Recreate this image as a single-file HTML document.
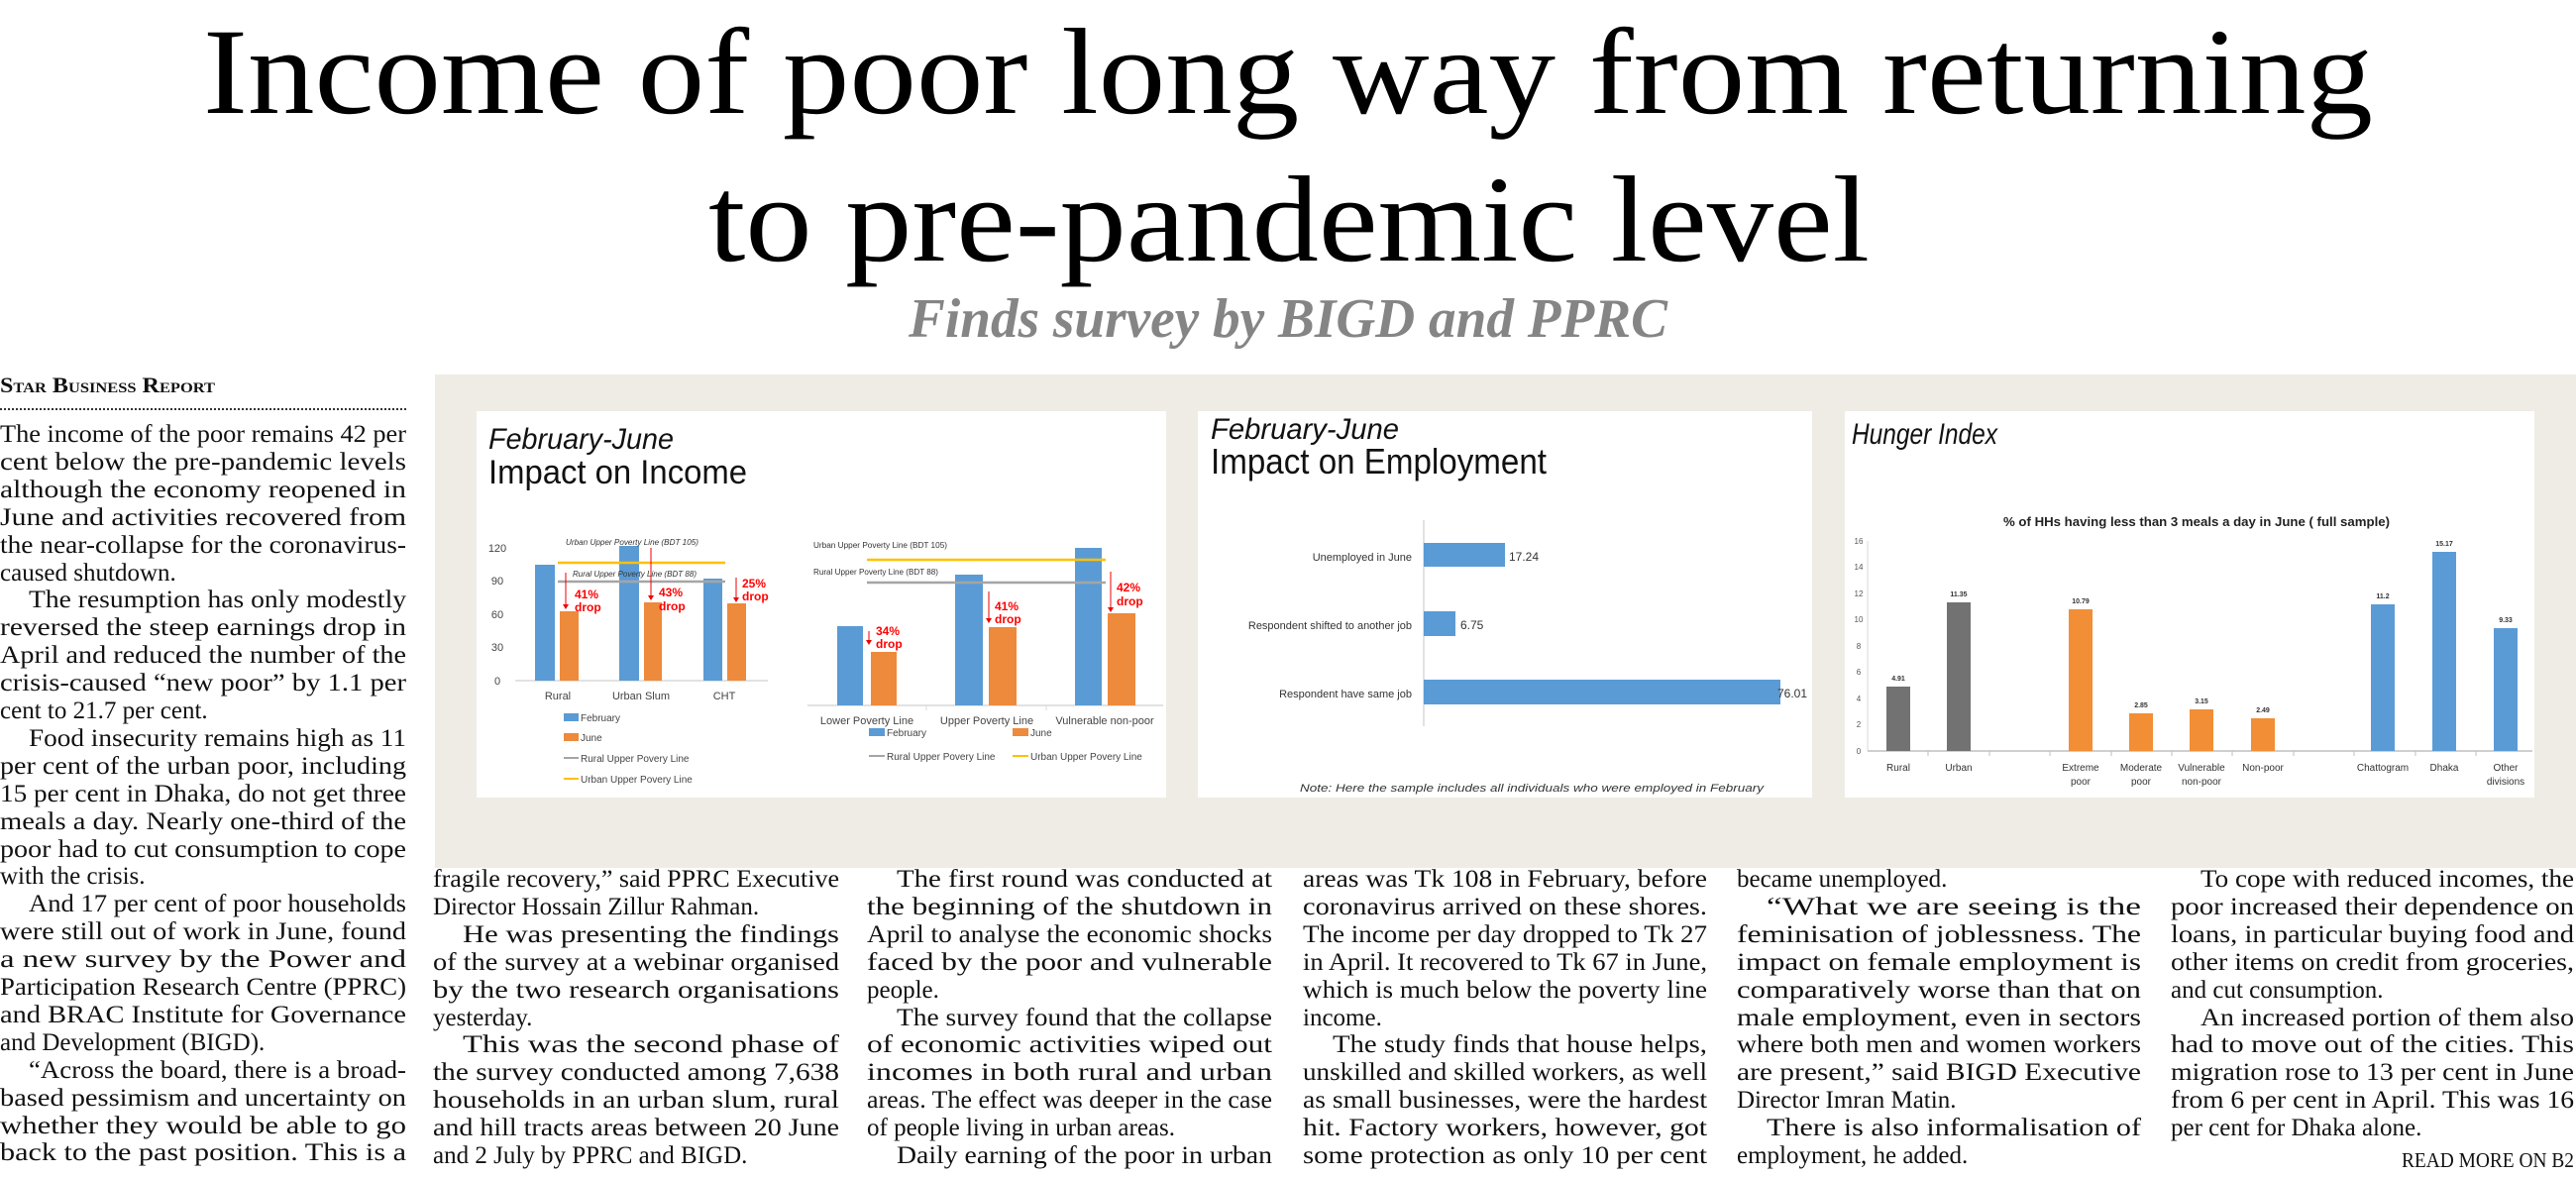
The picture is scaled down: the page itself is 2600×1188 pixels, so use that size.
<!DOCTYPE html>
<html><head><meta charset="utf-8">
<style>
html,body{margin:0;padding:0;background:#fff;}
svg{display:block;}
.b{font-family:"Liberation Serif",serif;font-size:25px;fill:#111;}
.s{font-family:"Liberation Sans",sans-serif;}
</style></head><body>
<svg width="2600" height="1188" viewBox="0 0 2600 1188" xmlns="http://www.w3.org/2000/svg">
<rect width="2600" height="1188" fill="#fff"/>
<!-- Headline -->
<text x="1300" y="114" text-anchor="middle" font-family="Liberation Serif,serif" font-size="124" fill="#000" textLength="2190" lengthAdjust="spacingAndGlyphs">Income of poor long way from returning</text>
<text x="1301" y="263" text-anchor="middle" font-family="Liberation Serif,serif" font-size="124" fill="#000" textLength="1172" lengthAdjust="spacingAndGlyphs">to pre-pandemic level</text>
<text x="1300" y="340" text-anchor="middle" font-family="Liberation Serif,serif" font-size="56" font-weight="bold" font-style="italic" fill="#858585" textLength="766" lengthAdjust="spacingAndGlyphs">Finds survey by BIGD and PPRC</text>

<!-- byline -->
<text x="0" y="396" font-family="Liberation Serif,serif" font-size="22" font-weight="bold" style="font-variant:small-caps" fill="#111" textLength="217" lengthAdjust="spacingAndGlyphs">Star Business Report</text>
<line x1="0" y1="413" x2="410" y2="413" stroke="#333" stroke-width="2" stroke-dasharray="2,2"/>

<!-- Left column -->
<g class="b">
<text x="0" y="446" textLength="410" lengthAdjust="spacingAndGlyphs">The income of the poor remains 42 per</text>
<text x="0" y="474" textLength="410" lengthAdjust="spacingAndGlyphs">cent below the pre-pandemic levels</text>
<text x="0" y="502" textLength="410" lengthAdjust="spacingAndGlyphs">although the economy reopened in</text>
<text x="0" y="530" textLength="410" lengthAdjust="spacingAndGlyphs">June and activities recovered from</text>
<text x="0" y="558" textLength="410" lengthAdjust="spacingAndGlyphs">the near-collapse for the coronavirus-</text>
<text x="0" y="586">caused shutdown.</text>
<text x="29" y="613" textLength="381" lengthAdjust="spacingAndGlyphs">The resumption has only modestly</text>
<text x="0" y="641" textLength="410" lengthAdjust="spacingAndGlyphs">reversed the steep earnings drop in</text>
<text x="0" y="669" textLength="410" lengthAdjust="spacingAndGlyphs">April and reduced the number of the</text>
<text x="0" y="697" textLength="410" lengthAdjust="spacingAndGlyphs">crisis-caused “new poor” by 1.1 per</text>
<text x="0" y="725">cent to 21.7 per cent.</text>
<text x="29" y="753" textLength="381" lengthAdjust="spacingAndGlyphs">Food insecurity remains high as 11</text>
<text x="0" y="781" textLength="410" lengthAdjust="spacingAndGlyphs">per cent of the urban poor, including</text>
<text x="0" y="809" textLength="410" lengthAdjust="spacingAndGlyphs">15 per cent in Dhaka, do not get three</text>
<text x="0" y="837" textLength="410" lengthAdjust="spacingAndGlyphs">meals a day. Nearly one-third of the</text>
<text x="0" y="865" textLength="410" lengthAdjust="spacingAndGlyphs">poor had to cut consumption to cope</text>
<text x="0" y="892">with the crisis.</text>
<text x="29" y="920" textLength="381" lengthAdjust="spacingAndGlyphs">And 17 per cent of poor households</text>
<text x="0" y="948" textLength="410" lengthAdjust="spacingAndGlyphs">were still out of work in June, found</text>
<text x="0" y="976" textLength="410" lengthAdjust="spacingAndGlyphs">a new survey by the Power and</text>
<text x="0" y="1004" textLength="410" lengthAdjust="spacingAndGlyphs">Participation Research Centre (PPRC)</text>
<text x="0" y="1032" textLength="410" lengthAdjust="spacingAndGlyphs">and BRAC Institute for Governance</text>
<text x="0" y="1060">and Development (BIGD).</text>
<text x="29" y="1088" textLength="381" lengthAdjust="spacingAndGlyphs">“Across the board, there is a broad-</text>
<text x="0" y="1116" textLength="410" lengthAdjust="spacingAndGlyphs">based pessimism and uncertainty on</text>
<text x="0" y="1144" textLength="410" lengthAdjust="spacingAndGlyphs">whether they would be able to go</text>
<text x="0" y="1171" textLength="410" lengthAdjust="spacingAndGlyphs">back to the past position. This is a</text>
</g>

<!-- Chart area -->
<rect x="439" y="378" width="2161" height="498" fill="#efece5"/>
<rect x="481" y="415" width="696" height="390" fill="#fff"/>
<rect x="1209" y="415" width="620" height="390" fill="#fff"/>
<rect x="1862" y="415" width="696" height="390" fill="#fff"/>

<!-- Panel 1 -->
<g class="s">
<text x="493" y="453" font-size="30" font-style="italic" fill="#111" textLength="187" lengthAdjust="spacingAndGlyphs">February-June</text>
<text x="493" y="488" font-size="34" fill="#111" textLength="261" lengthAdjust="spacingAndGlyphs">Impact on Income</text>
<g font-size="11" fill="#444" text-anchor="middle">
<text x="502" y="557">120</text><text x="502" y="590">90</text><text x="502" y="624">60</text><text x="502" y="657">30</text><text x="502" y="691">0</text>
</g>
<line x1="520" y1="687" x2="775" y2="687" stroke="#d9d9d9" stroke-width="1.5"/>
<g fill="#5b9bd5">
<rect x="540" y="570" width="20" height="117"/><rect x="625" y="551" width="20" height="136"/><rect x="710" y="584" width="19" height="103"/>
</g>
<g fill="#ed8a3c">
<rect x="565" y="617" width="19" height="70"/><rect x="650" y="608" width="18" height="79"/><rect x="734" y="609" width="19" height="78"/>
</g>
<line x1="563" y1="568" x2="732" y2="568" stroke="#ffc000" stroke-width="2.5"/>
<line x1="563" y1="587" x2="732" y2="587" stroke="#a5a5a5" stroke-width="2.5"/>
<text x="571" y="550" font-size="8" font-style="italic" fill="#333" textLength="134" lengthAdjust="spacingAndGlyphs">Urban Upper Poverty Line (BDT 105)</text>
<text x="578" y="582" font-size="8" font-style="italic" fill="#333" textLength="125" lengthAdjust="spacingAndGlyphs">Rural Upper Poverty Line (BDT 88)</text>
<g stroke="#e00" stroke-width="1"><line x1="571" y1="578" x2="571" y2="612"/><line x1="657" y1="553" x2="657" y2="603"/><line x1="743" y1="583" x2="743" y2="605"/></g>
<g fill="#e00"><path d="M568,610 L574,610 L571,615Z"/><path d="M654,601 L660,601 L657,606Z"/><path d="M740,603 L746,603 L743,608Z"/></g>
<g font-size="12" font-weight="bold" fill="#f00">
<text x="580" y="604">41%</text><text x="580" y="617">drop</text>
<text x="665" y="602">43%</text><text x="665" y="616">drop</text>
<text x="749" y="593">25%</text><text x="749" y="606">drop</text>
</g>
<g font-size="11" fill="#444" text-anchor="middle">
<text x="563" y="706">Rural</text><text x="647" y="706">Urban Slum</text><text x="731" y="706">CHT</text>
</g>
<rect x="569" y="720" width="15" height="8" fill="#5b9bd5"/>
<rect x="569" y="740" width="15" height="8" fill="#ed8a3c"/>
<line x1="569" y1="765" x2="584" y2="765" stroke="#a5a5a5" stroke-width="2"/>
<line x1="569" y1="786" x2="584" y2="786" stroke="#ffc000" stroke-width="2"/>
<g font-size="10" fill="#444">
<text x="586" y="728">February</text><text x="586" y="748">June</text>
<text x="586" y="769">Rural Upper Povery Line</text><text x="586" y="790">Urban Upper Povery Line</text>
</g>
<!-- right sub chart -->
<line x1="815" y1="712" x2="1174" y2="712" stroke="#d9d9d9" stroke-width="1.5"/>
<line x1="935" y1="712" x2="935" y2="717" stroke="#d9d9d9"/><line x1="1056" y1="712" x2="1056" y2="717" stroke="#d9d9d9"/>
<g fill="#5b9bd5"><rect x="845" y="632" width="26" height="80"/><rect x="964" y="580" width="28" height="132"/><rect x="1085" y="553" width="27" height="159"/></g>
<g fill="#ed8a3c"><rect x="879" y="658" width="26" height="54"/><rect x="998" y="633" width="28" height="79"/><rect x="1118" y="619" width="28" height="93"/></g>
<line x1="875" y1="565" x2="1116" y2="565" stroke="#ffc000" stroke-width="2.5"/>
<line x1="875" y1="588" x2="1116" y2="588" stroke="#a5a5a5" stroke-width="2.5"/>
<text x="821" y="553" font-size="8" fill="#333" textLength="135" lengthAdjust="spacingAndGlyphs">Urban Upper Poverty Line (BDT 105)</text>
<text x="821" y="580" font-size="8" fill="#333" textLength="126" lengthAdjust="spacingAndGlyphs">Rural Upper Poverty Line (BDT 88)</text>
<g stroke="#e00" stroke-width="1"><line x1="877" y1="637" x2="877" y2="648"/><line x1="998" y1="597" x2="998" y2="626"/><line x1="1121" y1="577" x2="1121" y2="615"/></g>
<g fill="#e00"><path d="M874,646 L880,646 L877,651Z"/><path d="M995,624 L1001,624 L998,629Z"/><path d="M1118,613 L1124,613 L1121,618Z"/></g>
<g font-size="12" font-weight="bold" fill="#f00">
<text x="884" y="641">34%</text><text x="884" y="654">drop</text>
<text x="1004" y="616">41%</text><text x="1004" y="629">drop</text>
<text x="1127" y="597">42%</text><text x="1127" y="611">drop</text>
</g>
<g font-size="11" fill="#444" text-anchor="middle">
<text x="875" y="731">Lower Poverty Line</text><text x="996" y="731">Upper Poverty Line</text><text x="1115" y="731">Vulnerable non-poor</text>
</g>
<rect x="877" y="735" width="16" height="8" fill="#5b9bd5"/><text x="895" y="743" font-size="10" fill="#444">February</text>
<rect x="1022" y="735" width="16" height="8" fill="#ed8a3c"/><text x="1040" y="743" font-size="10" fill="#444">June</text>
<line x1="877" y1="763" x2="893" y2="763" stroke="#a5a5a5" stroke-width="2"/><text x="895" y="767" font-size="10" fill="#444">Rural Upper Povery Line</text>
<line x1="1022" y1="763" x2="1038" y2="763" stroke="#ffc000" stroke-width="2"/><text x="1040" y="767" font-size="10" fill="#444">Urban Upper Povery Line</text>
</g>

<!-- Panel 2 -->
<g class="s">
<text x="1222" y="443" font-size="30" font-style="italic" fill="#111" textLength="190" lengthAdjust="spacingAndGlyphs">February-June</text>
<text x="1222" y="478" font-size="36" fill="#111" textLength="339" lengthAdjust="spacingAndGlyphs">Impact on Employment</text>
<line x1="1437" y1="525" x2="1437" y2="733" stroke="#d9d9d9" stroke-width="1.5"/>
<rect x="1437" y="548" width="82" height="24" fill="#5b9bd5"/>
<rect x="1437" y="617" width="32" height="25" fill="#5b9bd5"/>
<rect x="1437" y="686" width="360" height="25" fill="#5b9bd5"/>
<g font-size="12" fill="#333">
<text x="1523" y="566">17.24</text><text x="1474" y="635">6.75</text><text x="1794" y="704">76.01</text>
</g>
<g font-size="11" fill="#333" text-anchor="end">
<text x="1425" y="566">Unemployed in June</text>
<text x="1425" y="635">Respondent shifted to another job</text>
<text x="1425" y="704">Respondent have same job</text>
</g>
<text x="1312" y="799" font-size="11" font-style="italic" fill="#333" textLength="468" lengthAdjust="spacingAndGlyphs">Note: Here the sample includes all individuals who were employed in February</text>
</g>

<!-- Panel 3 -->
<g class="s">
<text x="1869" y="448" font-size="30" font-style="italic" fill="#111" textLength="147" lengthAdjust="spacingAndGlyphs">Hunger Index</text>
<text x="2217" y="531" font-size="13" font-weight="bold" fill="#222" text-anchor="middle" textLength="390" lengthAdjust="spacingAndGlyphs">% of HHs having less than 3 meals a day in June ( full sample)</text>
<g font-size="8" fill="#555" text-anchor="middle">
<text x="1876" y="761">0</text><text x="1876" y="734">2</text><text x="1876" y="708">4</text><text x="1876" y="681">6</text><text x="1876" y="655">8</text><text x="1876" y="628">10</text><text x="1876" y="602">12</text><text x="1876" y="575">14</text><text x="1876" y="549">16</text>
</g>
<line x1="1885" y1="546" x2="1885" y2="758" stroke="#d9d9d9"/>
<line x1="1885" y1="758" x2="2556" y2="758" stroke="#bfbfbf" stroke-width="1.5"/>
<g stroke="#bfbfbf"><line x1="1946" y1="758" x2="1946" y2="763"/><line x1="2008" y1="758" x2="2008" y2="763"/><line x1="2069" y1="758" x2="2069" y2="763"/><line x1="2131" y1="758" x2="2131" y2="763"/><line x1="2192" y1="758" x2="2192" y2="763"/><line x1="2253" y1="758" x2="2253" y2="763"/><line x1="2315" y1="758" x2="2315" y2="763"/><line x1="2376" y1="758" x2="2376" y2="763"/><line x1="2438" y1="758" x2="2438" y2="763"/><line x1="2499" y1="758" x2="2499" y2="763"/></g>
<g fill="#727272"><rect x="1904" y="693" width="24" height="65"/><rect x="1965" y="608" width="24" height="150"/></g>
<g fill="#f28e35"><rect x="2088" y="615" width="24" height="143"/><rect x="2149" y="720" width="24" height="38"/><rect x="2210" y="716" width="24" height="42"/><rect x="2272" y="725" width="24" height="33"/></g>
<g fill="#5b9bd5"><rect x="2393" y="610" width="24" height="148"/><rect x="2455" y="557" width="24" height="201"/><rect x="2517" y="634" width="24" height="124"/></g>
<g font-size="7" font-weight="bold" fill="#333" text-anchor="middle">
<text x="1916" y="687">4.91</text><text x="1977" y="602">11.35</text><text x="2100" y="609">10.79</text><text x="2161" y="714">2.85</text><text x="2222" y="710">3.15</text><text x="2284" y="719">2.49</text><text x="2405" y="604">11.2</text><text x="2467" y="551">15.17</text><text x="2529" y="628">9.33</text>
</g>
<g font-size="10" fill="#333" text-anchor="middle">
<text x="1916" y="778">Rural</text><text x="1977" y="778">Urban</text>
<text x="2100" y="778">Extreme</text><text x="2100" y="792">poor</text>
<text x="2161" y="778">Moderate</text><text x="2161" y="792">poor</text>
<text x="2222" y="778">Vulnerable</text><text x="2222" y="792">non-poor</text>
<text x="2284" y="778">Non-poor</text>
<text x="2405" y="778">Chattogram</text><text x="2467" y="778">Dhaka</text>
<text x="2529" y="778">Other</text><text x="2529" y="792">divisions</text>
</g>
</g>

<!-- Bottom columns -->
<g class="b">
<!-- col1 -->
<text x="437" y="895" textLength="410" lengthAdjust="spacingAndGlyphs">fragile recovery,” said PPRC Executive</text>
<text x="437" y="923">Director Hossain Zillur Rahman.</text>
<text x="467" y="951" textLength="380" lengthAdjust="spacingAndGlyphs">He was presenting the findings</text>
<text x="437" y="979" textLength="410" lengthAdjust="spacingAndGlyphs">of the survey at a webinar organised</text>
<text x="437" y="1007" textLength="410" lengthAdjust="spacingAndGlyphs">by the two research organisations</text>
<text x="437" y="1035">yesterday.</text>
<text x="467" y="1062" textLength="380" lengthAdjust="spacingAndGlyphs">This was the second phase of</text>
<text x="437" y="1090" textLength="410" lengthAdjust="spacingAndGlyphs">the survey conducted among 7,638</text>
<text x="437" y="1118" textLength="410" lengthAdjust="spacingAndGlyphs">households in an urban slum, rural</text>
<text x="437" y="1146" textLength="410" lengthAdjust="spacingAndGlyphs">and hill tracts areas between 20 June</text>
<text x="437" y="1174">and 2 July by PPRC and BIGD.</text>
<!-- col2 -->
<text x="905" y="895" textLength="379" lengthAdjust="spacingAndGlyphs">The first round was conducted at</text>
<text x="875" y="923" textLength="409" lengthAdjust="spacingAndGlyphs">the beginning of the shutdown in</text>
<text x="875" y="951" textLength="409" lengthAdjust="spacingAndGlyphs">April to analyse the economic shocks</text>
<text x="875" y="979" textLength="409" lengthAdjust="spacingAndGlyphs">faced by the poor and vulnerable</text>
<text x="875" y="1007">people.</text>
<text x="905" y="1035" textLength="379" lengthAdjust="spacingAndGlyphs">The survey found that the collapse</text>
<text x="875" y="1062" textLength="409" lengthAdjust="spacingAndGlyphs">of economic activities wiped out</text>
<text x="875" y="1090" textLength="409" lengthAdjust="spacingAndGlyphs">incomes in both rural and urban</text>
<text x="875" y="1118" textLength="409" lengthAdjust="spacingAndGlyphs">areas. The effect was deeper in the case</text>
<text x="875" y="1146">of people living in urban areas.</text>
<text x="905" y="1174" textLength="379" lengthAdjust="spacingAndGlyphs">Daily earning of the poor in urban</text>
<!-- col3 -->
<text x="1315" y="895" textLength="408" lengthAdjust="spacingAndGlyphs">areas was Tk 108 in February, before</text>
<text x="1315" y="923" textLength="408" lengthAdjust="spacingAndGlyphs">coronavirus arrived on these shores.</text>
<text x="1315" y="951" textLength="408" lengthAdjust="spacingAndGlyphs">The income per day dropped to Tk 27</text>
<text x="1315" y="979" textLength="408" lengthAdjust="spacingAndGlyphs">in April. It recovered to Tk 67 in June,</text>
<text x="1315" y="1007" textLength="408" lengthAdjust="spacingAndGlyphs">which is much below the poverty line</text>
<text x="1315" y="1035">income.</text>
<text x="1345" y="1062" textLength="378" lengthAdjust="spacingAndGlyphs">The study finds that house helps,</text>
<text x="1315" y="1090" textLength="408" lengthAdjust="spacingAndGlyphs">unskilled and skilled workers, as well</text>
<text x="1315" y="1118" textLength="408" lengthAdjust="spacingAndGlyphs">as small businesses, were the hardest</text>
<text x="1315" y="1146" textLength="408" lengthAdjust="spacingAndGlyphs">hit. Factory workers, however, got</text>
<text x="1315" y="1174" textLength="408" lengthAdjust="spacingAndGlyphs">some protection as only 10 per cent</text>
<!-- col4 -->
<text x="1753" y="895">became unemployed.</text>
<text x="1783" y="923" textLength="378" lengthAdjust="spacingAndGlyphs">“What we are seeing is the</text>
<text x="1753" y="951" textLength="408" lengthAdjust="spacingAndGlyphs">feminisation of joblessness. The</text>
<text x="1753" y="979" textLength="408" lengthAdjust="spacingAndGlyphs">impact on female employment is</text>
<text x="1753" y="1007" textLength="408" lengthAdjust="spacingAndGlyphs">comparatively worse than that on</text>
<text x="1753" y="1035" textLength="408" lengthAdjust="spacingAndGlyphs">male employment, even in sectors</text>
<text x="1753" y="1062" textLength="408" lengthAdjust="spacingAndGlyphs">where both men and women workers</text>
<text x="1753" y="1090" textLength="408" lengthAdjust="spacingAndGlyphs">are present,” said BIGD Executive</text>
<text x="1753" y="1118">Director Imran Matin.</text>
<text x="1783" y="1146" textLength="378" lengthAdjust="spacingAndGlyphs">There is also informalisation of</text>
<text x="1753" y="1174">employment, he added.</text>
<!-- col5 -->
<text x="2221" y="895" textLength="377" lengthAdjust="spacingAndGlyphs">To cope with reduced incomes, the</text>
<text x="2191" y="923" textLength="407" lengthAdjust="spacingAndGlyphs">poor increased their dependence on</text>
<text x="2191" y="951" textLength="407" lengthAdjust="spacingAndGlyphs">loans, in particular buying food and</text>
<text x="2191" y="979" textLength="407" lengthAdjust="spacingAndGlyphs">other items on credit from groceries,</text>
<text x="2191" y="1007">and cut consumption.</text>
<text x="2221" y="1035" textLength="377" lengthAdjust="spacingAndGlyphs">An increased portion of them also</text>
<text x="2191" y="1062" textLength="407" lengthAdjust="spacingAndGlyphs">had to move out of the cities. This</text>
<text x="2191" y="1090" textLength="407" lengthAdjust="spacingAndGlyphs">migration rose to 13 per cent in June</text>
<text x="2191" y="1118" textLength="407" lengthAdjust="spacingAndGlyphs">from 6 per cent in April. This was 16</text>
<text x="2191" y="1146">per cent for Dhaka alone.</text>
</g>
<text x="2598" y="1178" text-anchor="end" font-family="Liberation Serif,serif" font-size="21" fill="#111" textLength="174" lengthAdjust="spacingAndGlyphs">READ MORE ON B2</text>
</svg>
</body></html>
